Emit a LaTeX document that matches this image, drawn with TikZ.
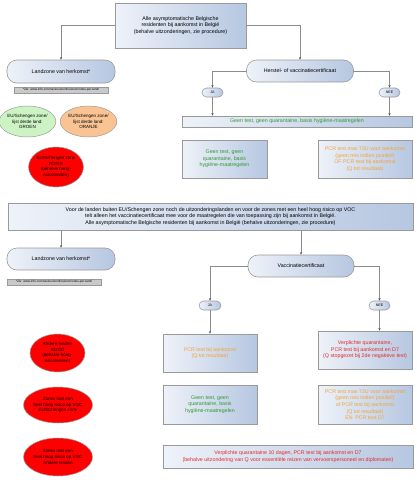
\documentclass[tikz,border=0pt]{standalone}
\usepackage{fontspec}
\setmainfont{Liberation Sans}
\usetikzlibrary{shapes.geometric,arrows.meta}
\definecolor{boxL}{HTML}{EEF2F9}
\definecolor{boxR}{HTML}{B6C7E1}
\definecolor{edge}{HTML}{9A9A9A}
\definecolor{lineC}{HTML}{8C8C8C}
\definecolor{txtG}{HTML}{2F9A2F}
\definecolor{txtO}{HTML}{F2A33A}
\definecolor{txtR}{HTML}{E52A2A}
\definecolor{ellG}{HTML}{CDF3C5}
\definecolor{ellO}{HTML}{FAC393}
\definecolor{ellR}{HTML}{FF0000}
\definecolor{noteC}{HTML}{C9C9C9}
\tikzset{
  basefont/.style={font=\fontsize{5.3}{6.6}\selectfont},
  gbox/.style={draw=edge, line width=0.6pt, left color=boxL, right color=boxR, align=center, inner sep=0pt, basefont},
  rbox/.style={gbox, rounded corners=10pt},
  pill/.style={gbox, rounded corners=4.5pt, font=\fontsize{3.6}{4}\selectfont},
  ell/.style={ellipse, draw=edge, line width=0.5pt, align=center, inner sep=0pt, font=\fontsize{4.5}{5.6}\selectfont},
  notebox/.style={fill=noteC, draw=edge, line width=0.3pt, inner sep=0pt, font=\fontsize{3.1}{3.5}\selectfont},
  conn/.style={draw=lineC, line width=0.6pt, -{Stealth[length=2.6pt,width=2.2pt,black!70]}},
  plain/.style={draw=lineC, line width=0.6pt}
}
\begin{document}
\begin{tikzpicture}[x=1pt,y=-1pt]
\useasboundingbox (0,0) rectangle (416,480);
% top part
\node[gbox, minimum width=131pt, minimum height=45pt] (top) at (180.5,25.5)
  {Alle asymptomatische Belgische\\residenten bij aankomst in België\\(behalve uitzonderingen, zie procedure)};
\node[rbox, minimum width=108pt, minimum height=23pt] (land1) at (61,71.5) {Landzone van herkomst*};
\node[notebox, minimum width=94pt, minimum height=6pt] (note1) at (61,90) {*Zie: www.info-coronavirus.be/nl/reizen/codes-per-land/};
\node[ell, fill=ellG, minimum width=49pt, minimum height=31pt] (green1) at (27.5,121.5) {EU/Schengen zone/\\lijst derde land:\\GROEN};
\node[ell, fill=ellO, minimum width=51pt, minimum height=31pt] (orange1) at (88.5,121.5) {EU/Schengen zone/\\lijst derde land:\\ORANJE};
\node[ell, fill=ellR, minimum width=54pt, minimum height=40pt] (red1) at (56,167) {EU/Schengen zone\\ROOD\\(behalve hoog-\\risicolanden)};
\node[rbox, minimum width=107pt, minimum height=22pt] (herstel) at (300,71) {Herstel- of vaccinatiecertificaat};
\node[pill, minimum width=21pt, minimum height=9pt] (ja1) at (212.5,92.5) {JA};
\node[pill, minimum width=21pt, minimum height=9pt] (nee1) at (389.5,92.5) {NEE};
\node[gbox, text=txtG, minimum width=230pt, minimum height=11pt] (wide1) at (297,121.5) {Geen test, geen quarantaine, basis hygiëne-maatregelen};
\node[gbox, text=txtG, minimum width=85pt, minimum height=38pt] (g1box) at (224.5,159) {Geen test, geen\\quarantaine, basis\\hygiëne-maatregelen};
\node[gbox, text=txtO, minimum width=94pt, minimum height=38pt] (o1box) at (365,159) {PCR test max 72U voor aankomst\\(geen reis indien positief)\\OF PCR test bij aankomst\\(Q tot resultaat)};
% middle
\node[gbox, minimum width=405pt, minimum height=27pt] (mid) at (210.5,216.5)
  {Voor de landen buiten EU/Schengen zone noch de uitzonderingslanden en voor de zones met een heel hoog risico op VOC\\telt alleen het vaccinatiecertificaat mee voor de maatregelen die van toepassing zijn bij aankomst in België.\\Alle asymptomatische Belgische residenten bij aankomst in België (behalve uitzonderingen, zie procedure)};
\node[rbox, minimum width=108pt, minimum height=22pt] (land2) at (61,259) {Landzone van herkomst*};
\node[notebox, minimum width=94pt, minimum height=6pt] (note2) at (54,282) {*Zie: www.info-coronavirus.be/nl/reizen/codes-per-land/};
\node[rbox, minimum width=106pt, minimum height=22pt] (vacc) at (301,266) {Vaccinatiecertificaat};
\node[pill, minimum width=22pt, minimum height=9pt] (ja2) at (210,305.5) {JA};
\node[pill, minimum width=21pt, minimum height=9pt] (nee2) at (379.5,305.5) {NEE};
\node[gbox, text=txtO, minimum width=94pt, minimum height=38pt] (b2a) at (210,353) {PCR test bij aankomst\\(Q tot resultaat)};
\node[gbox, text=txtR, minimum width=94pt, minimum height=38pt] (b2b) at (365,350) {Verplichte quarantaine,\\PCR test bij aankomst en D7\\(Q stopgezet bij 2de negatieve test)};
\node[ell, fill=ellR, minimum width=55pt, minimum height=38pt] (red2) at (57.5,353) {Andere landen\\ROOD\\(behalve hoog-\\risicolanden)};
\node[ell, fill=ellR, minimum width=54pt, minimum height=36pt] (red3) at (58,405) {Zones met een\\heel hoog risico op VOC\\EU/Schengen zone};
\node[gbox, text=txtG, minimum width=94pt, minimum height=39pt] (g3) at (210,404.5) {Geen test, geen\\quarantaine, basis\\hygiëne-maatregelen};
\node[gbox, text=txtO, minimum width=94pt, minimum height=39pt] (o3) at (365,404.5) {PCR test max 72U voor aankomst\\(geen reis indien positief)\\of PCR test bij aankomst\\(Q tot resultaat)\\EN\enspace PCR test D7};
\node[ell, fill=ellR, minimum width=54pt, minimum height=38pt] (red4) at (58,457) {Zones met een\\heel hoog risico op VOC\\Andere landen};
\node[gbox, text=txtR, minimum width=250pt, minimum height=23pt] (wide4) at (288,456.5) {Verplichte quarantaine 10 dagen, PCR test bij aankomst en D7\\(behalve uitzondering van Q voor essentiële reizen van vervoerspersoneel en diplomaten)};
% connectors
\draw[conn] (top.west) -| (land1.north);
\draw[conn] (top.east) -| (herstel.north);
\draw[conn] (herstel.west) -| (ja1.north);
\draw[conn] (herstel.east) -| (nee1.north);
\draw[conn] (ja1.south) -- (ja1.south |- wide1.north);
\draw[conn] (nee1.south) -- (nee1.south |- wide1.north);
\draw[conn] (land2.north |- mid.south) -- (land2.north);
\draw[conn] (vacc.north |- mid.south) -- (vacc.north);
\draw[conn] (vacc.west) -| (ja2.north);
\draw[conn] (vacc.east) -| (nee2.north);
\draw[conn] (ja2.south) -- (ja2.south |- b2a.north);
\draw[conn] (nee2.south) -- (nee2.south |- b2b.north);
\end{tikzpicture}
\end{document}
